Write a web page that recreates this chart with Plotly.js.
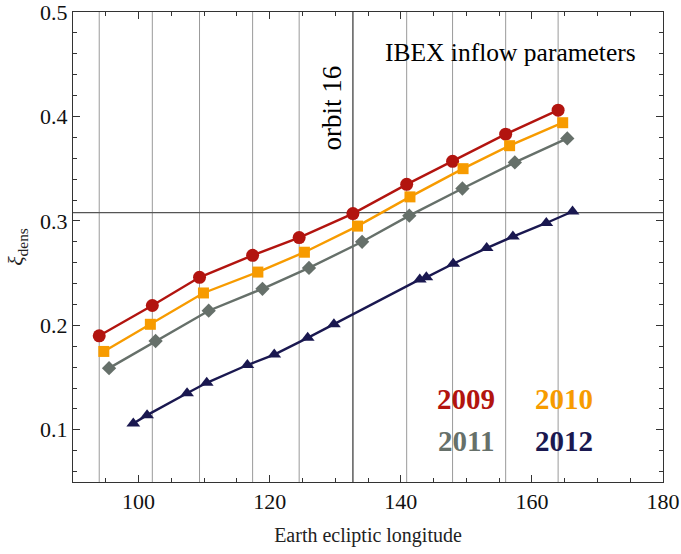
<!DOCTYPE html>
<html>
<head>
<meta charset="utf-8">
<script src="https://cdn.plot.ly/plotly-3.0.1.min.js"></script>
<style>html,body{margin:0;padding:0;background:#fff;}#chart{width:681px;height:554px;}</style>
</head>
<body>
<div id="chart"></div>
<script>
// Data
const lon2009 = [94.0, 102.1, 109.3, 117.4, 124.5, 132.7, 140.9, 147.9, 156.0, 164.0];
const xi2009  = [0.190, 0.219, 0.246, 0.267, 0.284, 0.307, 0.335, 0.357, 0.383, 0.406];

const lon2010 = [94.7, 101.8, 109.9, 118.2, 125.3, 133.4, 141.4, 149.5, 156.6, 164.7];
const xi2010  = [0.175, 0.201, 0.231, 0.251, 0.270, 0.295, 0.323, 0.350, 0.372, 0.394];

const lon2011 = [95.5, 102.6, 110.7, 118.9, 126.0, 134.1, 141.3, 149.4, 157.4, 165.4];
const xi2011  = [0.159, 0.185, 0.214, 0.235, 0.255, 0.280, 0.305, 0.331, 0.356, 0.379];

const lon2012 = [99.2, 101.3, 107.4, 110.4, 116.6, 120.7, 125.8, 129.8, 142.9, 143.9, 148.0, 153.1, 157.1, 162.2, 166.2];
const xi2012  = [0.106, 0.114, 0.135, 0.145, 0.162, 0.172, 0.188, 0.201, 0.244, 0.246, 0.259, 0.274, 0.285, 0.298, 0.309];

// Orbit boundary longitudes (vertical grid lines) and orbit 16 reference
const orbitLongitudes = [94.0, 102.1, 109.3, 117.4, 124.5, 140.9, 147.9, 156.0, 164.0];
const orbit16Longitude = 132.7;
const orbit16Xi = 0.308;

const years = ['2009', '2010', '2011', '2012'];
const colors = ['#b2140f', '#f79b00', '#66706a', '#1a1850'];

const FONT = 'Liberation Serif, Times New Roman, serif';

const series = [
  {x: lon2009, y: xi2009, sym: 'circle', size: 13},
  {x: lon2010, y: xi2010, sym: 'square', size: 11},
  {x: lon2011, y: xi2011, sym: 'diamond', size: 11},
  {x: lon2012, y: xi2012, sym: 'triangle-up', size: 12}
];

const traces = series.map((s, i) => ({
  x: s.x, y: s.y, type: 'scatter', mode: 'lines+markers', name: years[i],
  line: {color: colors[i], width: 2.4},
  marker: {color: colors[i], symbol: s.sym, size: s.size},
  showlegend: false, cliponaxis: false
}));

const shapes = orbitLongitudes.map(v => ({
  type: 'line', xref: 'x', yref: 'paper', x0: v, x1: v, y0: 0, y1: 1,
  line: {color: '#9a9a9a', width: 1}, layer: 'below'
}));
shapes.push({type: 'line', xref: 'x', yref: 'paper', x0: orbit16Longitude, x1: orbit16Longitude, y0: 0, y1: 1,
  line: {color: '#333333', width: 1.2}, layer: 'below'});
shapes.push({type: 'line', xref: 'paper', yref: 'y', x0: 0, x1: 1, y0: orbit16Xi, y1: orbit16Xi,
  line: {color: '#555555', width: 1.2}, layer: 'below'});

const annotations = [
  {xref: 'x', yref: 'y', x: orbit16Longitude, y: 0.366, text: 'orbit 16', textangle: -90,
   xanchor: 'right', yanchor: 'bottom', showarrow: false, xshift: -3,
   font: {family: FONT, size: 27, color: '#000'}},
  {xref: 'paper', yref: 'y', x: 0.958, y: 0.461, text: 'IBEX inflow parameters',
   xanchor: 'right', yanchor: 'middle', showarrow: false,
   font: {family: FONT, size: 25.5, color: '#000'}},
  {xref: 'x', yref: 'y', x: 150, y: 0.1295, text: '<b>2009</b>', showarrow: false,
   font: {family: FONT, size: 29, color: colors[0]}},
  {xref: 'x', yref: 'y', x: 164.9, y: 0.1295, text: '<b>2010</b>', showarrow: false,
   font: {family: FONT, size: 29, color: colors[1]}},
  {xref: 'x', yref: 'y', x: 150, y: 0.0895, text: '<b>2011</b>', showarrow: false,
   font: {family: FONT, size: 29, color: colors[2]}},
  {xref: 'x', yref: 'y', x: 164.9, y: 0.0895, text: '<b>2012</b>', showarrow: false,
   font: {family: FONT, size: 29, color: colors[3]}}
];

const layout = {
  width: 681, height: 554,
  margin: {l: 73, r: 18, t: 12, b: 72},
  paper_bgcolor: '#fff', plot_bgcolor: '#fff',
  font: {family: FONT, size: 21, color: '#000'},
  xaxis: {
    range: [90, 180], tickvals: [100, 120, 140, 160, 180], ticktext: ['100','120','140','160','180'],
    ticks: 'inside', ticklen: 7, tickcolor: '#333', tickwidth: 1,
    minor: {dtick: 5, tick0: 0, ticks: 'inside', ticklen: 4, tickcolor: '#333', showgrid: false},
    showline: true, linecolor: '#333', linewidth: 1, mirror: 'ticks',
    showgrid: false, zeroline: false, ticklabeloverflow: 'allow',
    tickfont: {family: FONT, size: 22, color: '#111'},
    title: {text: 'Earth ecliptic longitude', font: {family: FONT, size: 20, color: '#222'}, standoff: 14}
  },
  yaxis: {
    range: [0.05, 0.5], tickvals: [0.1, 0.2, 0.3, 0.4, 0.5], ticktext: ['0.1','0.2','0.3','0.4','0.5'],
    ticks: 'inside', ticklen: 7, tickcolor: '#333', tickwidth: 1,
    minor: {dtick: 0.02, tick0: 0, ticks: 'inside', ticklen: 4, tickcolor: '#333', showgrid: false},
    showline: true, linecolor: '#333', linewidth: 1, mirror: 'ticks',
    showgrid: false, zeroline: false, ticklabeloverflow: 'allow',
    tickfont: {family: FONT, size: 22, color: '#111'},
    title: {text: '<i>ξ</i><sub>dens</sub>', font: {family: FONT, size: 22, color: '#222'}, standoff: 10}
  },
  shapes: shapes,
  annotations: annotations,
  showlegend: false
};

Plotly.newPlot('chart', traces, layout, {displayModeBar: false, staticPlot: true});
</script>
</body>
</html>
